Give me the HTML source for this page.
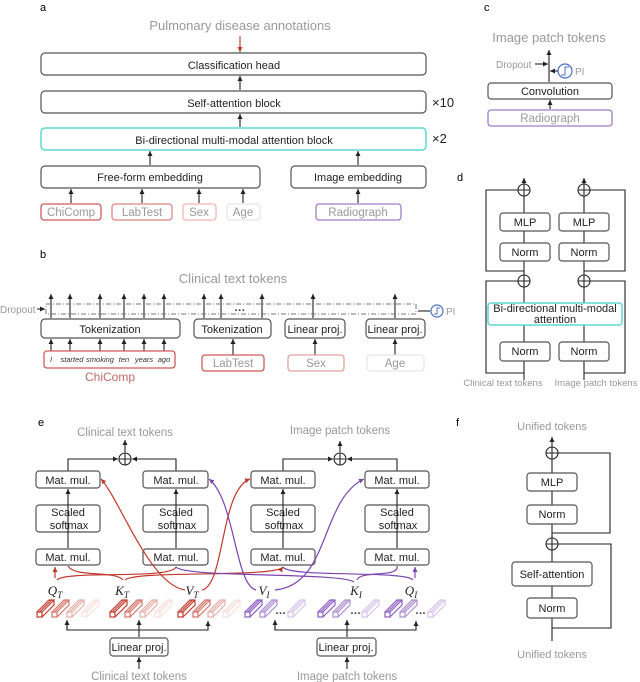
<!DOCTYPE html>
<html><head><meta charset="utf-8"><style>
body{margin:0;background:#fff}
svg{display:block;font-family:"Liberation Sans",sans-serif}
.b{fill:#fff;stroke:#555;stroke-width:1.2}
.t{font-size:11px;fill:#222;text-anchor:middle}
.g{fill:#999;text-anchor:middle}
.l{stroke:#222;stroke-width:1.1;fill:none}
.q{font-family:"Liberation Serif",serif;font-style:italic;font-size:13px;fill:#222;text-anchor:middle}
</style></head><body>
<svg width="640" height="682" viewBox="0 0 640 682">
<defs>
<marker id="a" markerWidth="6" markerHeight="6" refX="5" refY="3" orient="auto" markerUnits="userSpaceOnUse"><path d="M0,0.5L5,3L0,5.5z" fill="#222"/></marker>
<marker id="ar" markerWidth="6" markerHeight="6" refX="5" refY="3" orient="auto" markerUnits="userSpaceOnUse"><path d="M0,0.5L5,3L0,5.5z" fill="#c0392b"/></marker>
<marker id="ap" markerWidth="6" markerHeight="6" refX="5" refY="3" orient="auto" markerUnits="userSpaceOnUse"><path d="M0,0.5L5,3L0,5.5z" fill="#7b45b0"/></marker>
<g id="pr"><rect x="0" y="12" width="5" height="5" fill="none" stroke-width="1.2"/><path d="M0,12L12,0L17,0L17,5L5,17M5,12L17,0M2.5,12L14.5,0" fill="none" stroke-width="1.2"/></g>
<g id="plus"><circle r="6" fill="#fff" stroke="#222" stroke-width="1.1"/><path d="M-6,0H6M0,-6V6" stroke="#222" stroke-width="1.1"/></g>
</defs>

<!-- Panel a -->
<text x="40" y="11" font-size="11">a</text>
<text x="240" y="30" class="g" font-size="13">Pulmonary disease annotations</text>
<line x1="240" y1="36" x2="240" y2="52" stroke="#c0392b" stroke-width="1.1" marker-end="url(#ar)"/>
<rect x="41" y="53" width="385" height="22" rx="4" class="b"/><text x="234" y="69" class="t" font-size="13">Classification head</text>
<line x1="240" y1="90" x2="240" y2="76" class="l" marker-end="url(#a)"/>
<rect x="41" y="91" width="385" height="22" rx="4" class="b"/><text x="234" y="107" class="t" font-size="13">Self-attention block</text>
<text x="432" y="107" font-size="13" fill="#222">×10</text>
<line x1="240" y1="127" x2="240" y2="114" class="l" marker-end="url(#a)"/>
<rect x="41" y="128" width="385" height="22" rx="4" fill="#fff" stroke="#5dd8d2" stroke-width="1.5"/><text x="234" y="144" class="t" font-size="13">Bi-directional multi-modal attention block</text>
<text x="432" y="143" font-size="13" fill="#222">×2</text>
<line x1="150" y1="165" x2="150" y2="151" class="l" marker-end="url(#a)"/>
<line x1="358" y1="165" x2="358" y2="151" class="l" marker-end="url(#a)"/>
<rect x="41" y="166" width="219" height="22" rx="4" class="b"/><text x="150" y="181" class="t" font-size="12">Free-form embedding</text>
<rect x="291" y="166" width="135" height="22" rx="4" class="b"/><text x="358" y="181" class="t" font-size="12">Image embedding</text>
<g class="l" marker-end="url(#a)"><line x1="71" y1="203" x2="71" y2="189"/><line x1="142" y1="203" x2="142" y2="189"/><line x1="199" y1="203" x2="199" y2="189"/><line x1="243" y1="203" x2="243" y2="189"/><line x1="358" y1="203" x2="358" y2="189"/></g>
<rect x="41" y="204" width="60" height="16" rx="3" fill="#fff" stroke="#d05a5a" stroke-width="1.3"/><text x="71" y="216" class="g" font-size="11.5">ChiComp</text>
<rect x="112" y="204" width="60" height="16" rx="3" fill="#fff" stroke="#e08585" stroke-width="1.3"/><text x="142" y="216" class="g" font-size="11.5">LabTest</text>
<rect x="183" y="204" width="33" height="16" rx="3" fill="#fff" stroke="#f0b5b5" stroke-width="1.3"/><text x="199" y="216" class="g" font-size="11.5">Sex</text>
<rect x="227" y="204" width="33" height="16" rx="3" fill="#fff" stroke="#e6e6e6" stroke-width="1.3"/><text x="243" y="216" class="g" font-size="11.5">Age</text>
<rect x="316" y="204" width="85" height="16" rx="3" fill="#fff" stroke="#a07cc8" stroke-width="1.3"/><text x="358" y="216" class="g" font-size="11.5">Radiograph</text>

<!-- Panel b -->
<text x="40" y="258" font-size="11">b</text>
<text x="233" y="283" class="g" font-size="13">Clinical text tokens</text>
<g class="l" marker-end="url(#a)">
<line x1="51" y1="318" x2="51" y2="294"/><line x1="70" y1="318" x2="70" y2="294"/><line x1="100" y1="318" x2="100" y2="294"/><line x1="124" y1="318" x2="124" y2="294"/><line x1="144" y1="318" x2="144" y2="294"/><line x1="164" y1="318" x2="164" y2="294"/>
<line x1="204" y1="318" x2="204" y2="294"/><line x1="221" y1="318" x2="221" y2="294"/><line x1="262" y1="318" x2="262" y2="294"/><line x1="313" y1="318" x2="313" y2="294"/><line x1="395" y1="318" x2="395" y2="294"/>
</g>
<rect x="46" y="304" width="370" height="10" fill="none" stroke="#777" stroke-width="1" stroke-dasharray="5,2,1,2"/>
<text x="240" y="314" font-size="11" font-weight="bold" fill="#333" text-anchor="middle">···</text>
<text x="0" y="313" font-size="10" fill="#999">Dropout</text>
<line x1="37" y1="309" x2="45" y2="309" class="l" marker-end="url(#a)"/>
<line x1="430" y1="311" x2="418" y2="311" class="l"/>
<circle cx="437" cy="311" r="6" fill="none" stroke="#4a6fc0" stroke-width="1.2"/><path d="M434,314H437V308H440" fill="none" stroke="#4a6fc0" stroke-width="1"/>
<text x="446" y="315" font-size="10" fill="#999">PI</text>
<rect x="41" y="319" width="139" height="19" rx="4" class="b"/><text x="110" y="333" class="t" font-size="11.5">Tokenization</text>
<rect x="194" y="319" width="77" height="19" rx="4" class="b"/><text x="232" y="333" class="t" font-size="11.5">Tokenization</text>
<rect x="285" y="319" width="60" height="19" rx="4" class="b"/><text x="315" y="333" class="t" font-size="11">Linear proj.</text>
<rect x="366" y="319" width="59" height="19" rx="4" class="b"/><text x="395" y="333" class="t" font-size="11">Linear proj.</text>
<g class="l" marker-end="url(#a)">
<line x1="51" y1="352" x2="51" y2="339"/><line x1="70" y1="352" x2="70" y2="339"/><line x1="100" y1="352" x2="100" y2="339"/><line x1="124" y1="352" x2="124" y2="339"/><line x1="144" y1="352" x2="144" y2="339"/><line x1="164" y1="352" x2="164" y2="339"/>
<line x1="233" y1="355" x2="233" y2="339"/><line x1="315" y1="355" x2="315" y2="339"/><line x1="395" y1="355" x2="395" y2="339"/>
</g>
<rect x="44" y="351" width="131" height="17" rx="3" fill="#fff" stroke="#d05a5a" stroke-width="1.3"/>
<g font-size="7.5" font-style="italic" fill="#333" text-anchor="middle"><text x="51" y="362">I</text><text x="72" y="362">started</text><text x="100" y="362">smoking</text><text x="124" y="362">ten</text><text x="144" y="362">years</text><text x="164" y="362">ago</text></g>
<text x="110" y="381" font-size="12" fill="#c06a6a" text-anchor="middle">ChiComp</text>
<rect x="202" y="355" width="62" height="16" rx="3" fill="#fff" stroke="#d05a5a" stroke-width="1.3"/><text x="233" y="367" class="g" font-size="11.5">LabTest</text>
<rect x="288" y="355" width="56" height="16" rx="3" fill="#fff" stroke="#e8a0a0" stroke-width="1.3"/><text x="316" y="367" class="g" font-size="11.5">Sex</text>
<rect x="367" y="355" width="57" height="16" rx="3" fill="#fff" stroke="#e6e6e6" stroke-width="1.3"/><text x="395" y="367" class="g" font-size="11.5">Age</text>

<!-- Panel c -->
<text x="484" y="11" font-size="11">c</text>
<text x="549" y="42" class="g" font-size="13">Image patch tokens</text>
<line x1="549" y1="82" x2="549" y2="50" class="l" marker-end="url(#a)"/>
<text x="496" y="68" font-size="10" fill="#999">Dropout</text>
<line x1="535" y1="64" x2="548" y2="64" class="l" marker-end="url(#a)"/>
<line x1="558" y1="71" x2="550" y2="71" class="l" marker-end="url(#a)"/>
<circle cx="565" cy="71" r="7" fill="none" stroke="#4a6fc0" stroke-width="1.2"/><path d="M561,75H565V67H569" fill="none" stroke="#4a6fc0" stroke-width="1"/>
<text x="575" y="75" font-size="10" fill="#999">PI</text>
<rect x="488" y="83" width="124" height="16" rx="3" class="b"/><text x="550" y="95" class="t">Convolution</text>
<line x1="550" y1="109" x2="550" y2="100" class="l" marker-end="url(#a)"/>
<rect x="488" y="110" width="124" height="16" rx="3" fill="#fff" stroke="#a07cc8" stroke-width="1.3"/><text x="550" y="122" class="g" font-size="11.5">Radiograph</text>

<!-- Panel d -->
<text x="457" y="181" font-size="11">d</text>
<g class="l">
<line x1="524" y1="380" x2="524" y2="178" marker-end="url(#a)"/>
<line x1="584" y1="380" x2="584" y2="178" marker-end="url(#a)"/>
<path d="M524,271H486V190H518"/><path d="M584,271H625V190H590"/>
<path d="M524,373H486V281H518"/><path d="M584,373H625V281H590"/>
</g>
<use href="#plus" x="524" y="190"/><use href="#plus" x="584" y="190"/>
<use href="#plus" x="524" y="281"/><use href="#plus" x="584" y="281"/>
<rect x="500" y="213" width="50" height="18" rx="3" class="b"/><text x="525" y="226" class="t">MLP</text>
<rect x="559" y="213" width="50" height="18" rx="3" class="b"/><text x="584" y="226" class="t">MLP</text>
<rect x="500" y="243" width="50" height="18" rx="3" class="b"/><text x="525" y="256" class="t">Norm</text>
<rect x="559" y="243" width="50" height="18" rx="3" class="b"/><text x="584" y="256" class="t">Norm</text>
<rect x="488" y="303" width="134" height="22" rx="3" fill="#fff" stroke="#5dd8d2" stroke-width="1.5"/>
<text x="555" y="312" class="t" font-size="10.5">Bi-directional multi-modal</text><text x="555" y="323" class="t" font-size="10.5">attention</text>
<rect x="500" y="342" width="50" height="19" rx="3" class="b"/><text x="525" y="355" class="t">Norm</text>
<rect x="559" y="342" width="50" height="19" rx="3" class="b"/><text x="584" y="355" class="t">Norm</text>
<text x="503" y="386" class="g" font-size="9.5">Clinical text tokens</text>
<text x="596" y="386" class="g" font-size="9.5">Image patch tokens</text>

<!-- Panel e -->
<text x="38" y="426" font-size="11">e</text>
<text x="125" y="436" class="g" font-size="11.5">Clinical text tokens</text>
<text x="340" y="434" class="g" font-size="11.5">Image patch tokens</text>
<g class="l">
<line x1="125" y1="452" x2="125" y2="440" marker-end="url(#a)"/><line x1="340" y1="452" x2="340" y2="441" marker-end="url(#a)"/>
<path d="M68,471V459H118" marker-end="url(#a)"/><path d="M176,471V459H132" marker-end="url(#a)"/>
<path d="M283,471V459H333" marker-end="url(#a)"/><path d="M397,471V459H347" marker-end="url(#a)"/>
</g>
<use href="#plus" x="125" y="459"/><use href="#plus" x="340" y="459"/>
<g>
<rect x="36" y="471" width="64" height="17" rx="3" class="b"/><text x="68" y="484" class="t">Mat. mul.</text>
<rect x="143" y="471" width="65" height="17" rx="3" class="b"/><text x="176" y="484" class="t">Mat. mul.</text>
<rect x="251" y="471" width="64" height="17" rx="3" class="b"/><text x="283" y="484" class="t">Mat. mul.</text>
<rect x="365" y="471" width="64" height="17" rx="3" class="b"/><text x="397" y="484" class="t">Mat. mul.</text>
<rect x="36" y="505" width="64" height="27" rx="3" class="b"/><text x="68" y="516" class="t">Scaled</text><text x="69" y="529" class="t">softmax</text>
<rect x="143" y="505" width="65" height="27" rx="3" class="b"/><text x="176" y="516" class="t">Scaled</text><text x="177" y="529" class="t">softmax</text>
<rect x="251" y="505" width="64" height="27" rx="3" class="b"/><text x="283" y="516" class="t">Scaled</text><text x="284" y="529" class="t">softmax</text>
<rect x="365" y="505" width="64" height="27" rx="3" class="b"/><text x="397" y="516" class="t">Scaled</text><text x="398" y="529" class="t">softmax</text>
<rect x="36" y="549" width="64" height="16" rx="3" class="b"/><text x="68" y="561" class="t">Mat. mul.</text>
<rect x="143" y="549" width="65" height="16" rx="3" class="b"/><text x="176" y="561" class="t">Mat. mul.</text>
<rect x="251" y="549" width="64" height="16" rx="3" class="b"/><text x="283" y="561" class="t">Mat. mul.</text>
<rect x="365" y="549" width="64" height="16" rx="3" class="b"/><text x="397" y="561" class="t">Mat. mul.</text>
</g>
<g class="l" marker-end="url(#a)">
<line x1="68" y1="548" x2="68" y2="489"/><line x1="176" y1="548" x2="176" y2="489"/><line x1="283" y1="548" x2="283" y2="489"/><line x1="397" y1="548" x2="397" y2="489"/>
</g>
<g fill="none" stroke="#c0392b" stroke-width="1.2">
<line x1="55" y1="578" x2="55" y2="567" marker-end="url(#ar)"/>
<path d="M57,580C65,570 170,580 176,567"/>
<path d="M123,580C115,570 75,578 68,566"/>
<path d="M125,580C135,570 275,578 283,567" marker-end="url(#ar)"/>
<path d="M185,590C150,585 120,500 101,479" marker-end="url(#ar)"/>
<path d="M202,590C225,585 220,490 250,479" marker-end="url(#ar)"/>
</g>
<g fill="none" stroke="#7b45b0" stroke-width="1.2">
<line x1="415" y1="578" x2="415" y2="567" marker-end="url(#ap)"/>
<path d="M413,580C405,570 290,578 283,567"/>
<path d="M357,580C360,570 400,578 397,566"/>
<path d="M354,582C340,572 185,578 176,567"/>
<path d="M256,590C235,585 235,500 209,479" marker-end="url(#ap)"/>
<path d="M275,590C330,585 320,500 364,479" marker-end="url(#ap)"/>
</g>
<text x="55" y="595" class="q">Q<tspan font-size="9" dy="3">T</tspan></text>
<text x="122" y="595" class="q">K<tspan font-size="9" dy="3">T</tspan></text>
<text x="192" y="595" class="q">V<tspan font-size="9" dy="3">T</tspan></text>
<text x="264" y="595" class="q">V<tspan font-size="9" dy="3">I</tspan></text>
<text x="356" y="595" class="q">K<tspan font-size="9" dy="3">I</tspan></text>
<text x="411" y="595" class="q">Q<tspan font-size="9" dy="3">I</tspan></text>
<g stroke="#c0392b">
<use href="#pr" x="37" y="600"/><use href="#pr" x="52" y="600" opacity=".7"/><use href="#pr" x="67" y="600" opacity=".4"/><use href="#pr" x="82" y="600" opacity=".15"/>
<use href="#pr" x="110" y="600"/><use href="#pr" x="125" y="600" opacity=".7"/><use href="#pr" x="140" y="600" opacity=".4"/><use href="#pr" x="155" y="600" opacity=".15"/>
<use href="#pr" x="178" y="600"/><use href="#pr" x="193" y="600" opacity=".7"/><use href="#pr" x="208" y="600" opacity=".4"/><use href="#pr" x="223" y="600" opacity=".15"/>
</g>
<g stroke="#8a5cc0">
<use href="#pr" x="245" y="600"/><use href="#pr" x="260" y="600" opacity=".7"/><use href="#pr" x="288" y="600" opacity=".35"/>
<use href="#pr" x="318" y="600"/><use href="#pr" x="333" y="600" opacity=".7"/><use href="#pr" x="362" y="600" opacity=".35"/>
<use href="#pr" x="385" y="600"/><use href="#pr" x="400" y="600" opacity=".7"/><use href="#pr" x="428" y="600" opacity=".35"/>
</g>
<g font-size="11" font-weight="bold" fill="#333"><text x="275" y="614">…</text><text x="350" y="614">…</text><text x="415" y="614">…</text></g>
<g class="l">
<path d="M67,621V630H208V621" marker-end="url(#a)"/><line x1="67" y1="630" x2="67" y2="620" marker-end="url(#a)"/>
<line x1="139" y1="637" x2="139" y2="620" marker-end="url(#a)"/>
<path d="M275,621V630H416V621" marker-end="url(#a)"/><line x1="275" y1="630" x2="275" y2="620" marker-end="url(#a)"/>
<line x1="347" y1="637" x2="347" y2="620" marker-end="url(#a)"/>
<line x1="139" y1="669" x2="139" y2="657" marker-end="url(#a)"/><line x1="347" y1="669" x2="347" y2="657" marker-end="url(#a)"/>
</g>
<rect x="110" y="638" width="58" height="18" rx="3" class="b"/><text x="139" y="651" class="t">Linear proj.</text>
<rect x="317" y="638" width="59" height="18" rx="3" class="b"/><text x="346" y="651" class="t">Linear proj.</text>
<text x="139" y="680" class="g" font-size="11.5">Clinical text tokens</text>
<text x="347" y="680" class="g" font-size="11.5">Image patch tokens</text>

<!-- Panel f -->
<text x="456" y="426" font-size="11">f</text>
<text x="552" y="430" class="g" font-size="11">Unified tokens</text>
<g class="l">
<line x1="552" y1="641" x2="552" y2="437" marker-end="url(#a)"/>
<path d="M552,533H610V453H558"/><path d="M552,628H611V544H558"/>
</g>
<use href="#plus" x="552" y="453"/><use href="#plus" x="552" y="544"/>
<rect x="527" y="473" width="50" height="18" rx="3" class="b"/><text x="552" y="486" class="t">MLP</text>
<rect x="527" y="505" width="50" height="19" rx="3" class="b"/><text x="552" y="518" class="t">Norm</text>
<rect x="512" y="562" width="80" height="24" rx="3" class="b"/><text x="552" y="578" class="t">Self-attention</text>
<rect x="527" y="598" width="50" height="20" rx="3" class="b"/><text x="552" y="612" class="t">Norm</text>
<text x="552" y="658" class="g" font-size="11">Unified tokens</text>
</svg>
</body></html>
